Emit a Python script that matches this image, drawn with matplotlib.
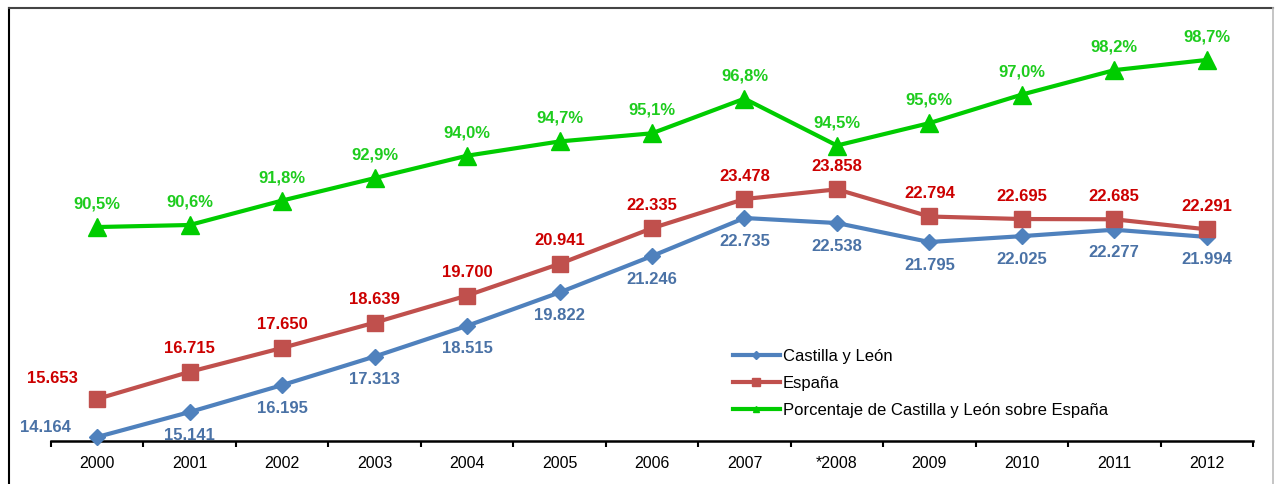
import matplotlib
matplotlib.use("Agg")
import matplotlib.pyplot as plt
from matplotlib.lines import Line2D

plt.rcParams['font.family'] = ['Liberation Sans', 'DejaVu Sans']

years = ["2000", "2001", "2002", "2003", "2004", "2005", "2006", "2007",
         "*2008", "2009", "2010", "2011", "2012"]
cyl = [14164, 15141, 16195, 17313, 18515, 19822, 21246, 22735,
       22538, 21795, 22025, 22277, 21994]
espana = [15653, 16715, 17650, 18639, 19700, 20941, 22335, 23478,
          23858, 22794, 22695, 22685, 22291]
pct = [90.5, 90.6, 91.8, 92.9, 94.0, 94.7, 95.1, 96.8,
       94.5, 95.6, 97.0, 98.2, 98.7]

c_blue = "#4F81BD"
c_red = "#C0504D"
c_green = "#00CC00"
t_blue = "#4A72A6"
t_red = "#CC0000"
t_green = "#1ECC1E"

W, H = 1275, 484
fig = plt.figure(figsize=(W / 100, H / 100), dpi=100)
ax = fig.add_axes([51 / W, 1 - 441 / H, (1253 - 51) / W, (441 - 20) / H])
ax2 = ax.twinx()

x = list(range(len(years)))
ax.plot(x, cyl, color=c_blue, lw=3, marker="D", ms=8.5, zorder=3, clip_on=False)
ax.plot(x, espana, color=c_red, lw=3, marker="s", ms=11, zorder=3, clip_on=False)
ax2.plot(x, pct, color=c_green, lw=3, marker="^", ms=13, zorder=3, clip_on=False)

ax.set_xlim(-0.5, len(years) - 0.5)
ax.set_ylim(14007, 30485)
ax2.set_ylim(80.0, 100.66)

for a in (ax, ax2):
    for s in ("top", "right", "left"):
        a.spines[s].set_visible(False)
    a.set_yticks([])
ax2.spines["bottom"].set_visible(False)
ax.spines["bottom"].set_linewidth(1.8)

ax.set_xticks([i - 0.5 for i in range(len(years) + 1)])
ax.set_xticklabels([])
ax.set_xticks(x, minor=True)
ax.set_xticklabels(years, minor=True, fontsize=11.5)
ax.tick_params(axis="x", which="major", length=4, width=1.5, direction="out")
ax.tick_params(axis="x", which="minor", length=0, pad=11)

fs = 12
for i, v in enumerate(cyl):
    lbl = f"{v:,}".replace(",", ".")
    off = (-52, 9) if i == 0 else (0, -23)
    ax.annotate(lbl, (i, v), xytext=off, textcoords="offset pixels",
                ha="center", va="center", color=t_blue, fontsize=fs,
                fontweight="bold", zorder=5)
for i, v in enumerate(espana):
    lbl = f"{v:,}".replace(",", ".")
    off = (-45, 20) if i == 0 else (0, 23)
    ax.annotate(lbl, (i, v), xytext=off, textcoords="offset pixels",
                ha="center", va="center", color=t_red, fontsize=fs,
                fontweight="bold", zorder=5)
for i, v in enumerate(pct):
    lbl = f"{v:.1f}%".replace(".", ",")
    ax2.annotate(lbl, (i, v), xytext=(0, 23), textcoords="offset pixels",
                 ha="center", va="center", color=t_green, fontsize=fs,
                 fontweight="bold", zorder=5)

handles = [
    Line2D([], [], color=c_blue, lw=3, marker="D", ms=4),
    Line2D([], [], color=c_red, lw=3, marker="s", ms=6),
    Line2D([], [], color=c_green, lw=3, marker="^", ms=5),
]
labels = ["Castilla y León", "España", "Porcentaje de Castilla y León sobre España"]
fig.legend(handles, labels, loc="upper left", bbox_to_anchor=(733 / W, 1 - 349 / H),
           frameon=False, fontsize=12, handlelength=2.8, handletextpad=0.2,
           labelspacing=0.72, borderaxespad=0, borderpad=0)

# outer frame
fig.add_artist(Line2D([8.5 / W, 8.5 / W], [0, 1 - 7.5 / H], transform=fig.transFigure,
                      color="black", lw=1.5))
fig.add_artist(Line2D([8.5 / W, 1273 / W], [1 - 7.5 / H, 1 - 7.5 / H],
                      transform=fig.transFigure, color="#444444", lw=1.5))
fig.add_artist(Line2D([1273 / W, 1273 / W], [0, 1 - 7.5 / H], transform=fig.transFigure,
                      color="#BBBBBB", lw=1.2))

fig.savefig("out.png", dpi=100)
